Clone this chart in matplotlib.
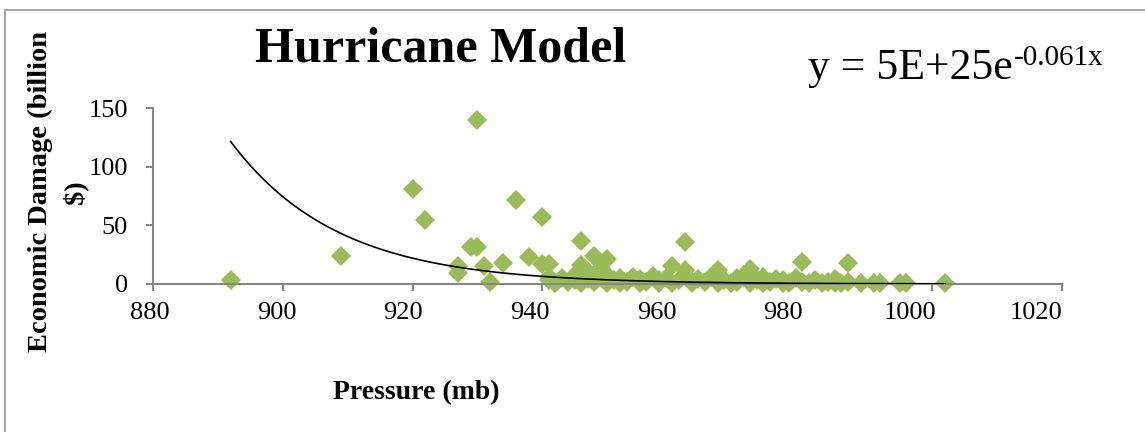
import numpy as np
import matplotlib
matplotlib.use("Agg")
import matplotlib.pyplot as plt
from matplotlib.patches import Rectangle
from matplotlib.transforms import ScaledTranslation

# ---- data ----
pressure = [892, 909, 920, 922, 927, 927, 929, 930, 930, 931, 932, 934, 936, 938,
            940, 940, 941, 941, 942, 946, 946, 948, 949, 950, 962, 960, 962, 980, 987,
            972, 967, 967,
            941, 942, 943, 944, 945, 945, 946, 947, 947, 948, 949, 950, 950, 951,
            952, 952, 953, 954, 955, 955, 956, 957, 958, 958, 959, 960, 961, 962,
            963, 964, 965, 966, 967, 968, 969, 970, 970, 971, 972, 973, 974, 974,
            975, 976, 977, 977, 978, 979, 980, 981, 982, 983, 984, 985, 985, 986,
            987, 989, 991, 992, 995, 996, 1002]
damage = [3, 24, 81, 55, 15, 9, 32, 32, 140, 15, 2, 18, 72, 23,
          57, 17, 17, 6, 1, 37, 16, 24, 14, 21, 36, 15, 12, 19, 18,
          13, 12, 9,
          3, 1, 5, 2, 3, 8, 1, 10, 4, 2, 6, 1, 8, 3,
          1, 5, 2, 6, 1, 4, 2, 7, 1, 3, 5, 1, 3, 8,
          1, 4, 2, 6, 1, 3, 1, 5, 2, 8, 1, 3, 6, 1,
          2, 4, 1, 3, 1, 5, 2, 1, 3, 1, 2, 1, 4, 1,
          2, 1, 1, 1, 1, 1, 0.5]
trend_a = 5.2e25
trend_b = -0.061
x_ticks = [880, 900, 920, 940, 960, 980, 1000, 1020]
y_ticks = [0, 50, 100, 150]

W, H = 1145, 432
fig = plt.figure(figsize=(W / 100, H / 100), dpi=100)
plt.rcParams['font.family'] = ['Liberation Serif', 'DejaVu Serif']

def fx(px):
    return px / W

def fy(py):
    return 1 - py / H

# chart border
fig.patches.append(Rectangle((fx(5), fy(440)), fx(1150) - fx(5), fy(10) - fy(440),
                             transform=fig.transFigure, fill=False,
                             edgecolor='#a6a6a6', linewidth=1.5))

ax = fig.add_axes([fx(152.7), fy(284), fx(1062) - fx(152.7), fy(108.3) - fy(284)])
ax.set_xlim(880, 1020)
ax.set_ylim(0, 150)
ax.set_xticks(x_ticks)
ax.set_yticks(y_ticks)
for s in ['top', 'right']:
    ax.spines[s].set_visible(False)
for s in ['left', 'bottom']:
    ax.spines[s].set_color('#868686')
    ax.spines[s].set_linewidth(1.5)
ax.tick_params(axis='both', direction='out', length=5, width=1.5, color='#868686',
               labelsize=19, labelcolor='black')
ax.tick_params(axis='y', pad=13)
ax.tick_params(axis='x', pad=8)
ax.patch.set_alpha(0)

# Excel-style label drift: labels sit progressively left of their ticks
for k, lab in enumerate(ax.get_xticklabels()):
    dx = -(2.7 + 3.3 * k) / 100.0
    lab.set_transform(lab.get_transform() + ScaledTranslation(dx, 0, fig.dpi_scale_trans))

ax.plot(pressure, damage, linestyle='none', marker='D', markersize=10.5,
        color='#9bbb59', markeredgewidth=0, clip_on=False, zorder=2)

xs = np.linspace(min(pressure), max(pressure), 300)
ax.plot(xs, trend_a * np.exp(trend_b * xs), color='black', linewidth=1.2, zorder=3)

# titles and labels
fig.text(fx(441), fy(62), 'Hurricane Model', fontsize=36, fontweight='bold',
         ha='center', va='baseline')
fig.text(fx(416), fy(393), 'Pressure (mb)', fontsize=20, fontweight='bold',
         ha='center', va='center')
fig.text(fx(58), fy(192), 'Economic Damage (billion\n$)', fontsize=20.5,
         fontweight='bold', rotation=90, ha='center', va='center',
         multialignment='center', linespacing=1.45)

t1 = fig.text(fx(808), fy(79), 'y = 5E+25e', fontsize=31.5, ha='left', va='baseline')
fig.canvas.draw()
bb = t1.get_window_extent()
fig.text(bb.x1 / W + 0.001, fy(65), '-0.061x', fontsize=21, ha='left', va='baseline')

fig.savefig('out.png', dpi=100)
